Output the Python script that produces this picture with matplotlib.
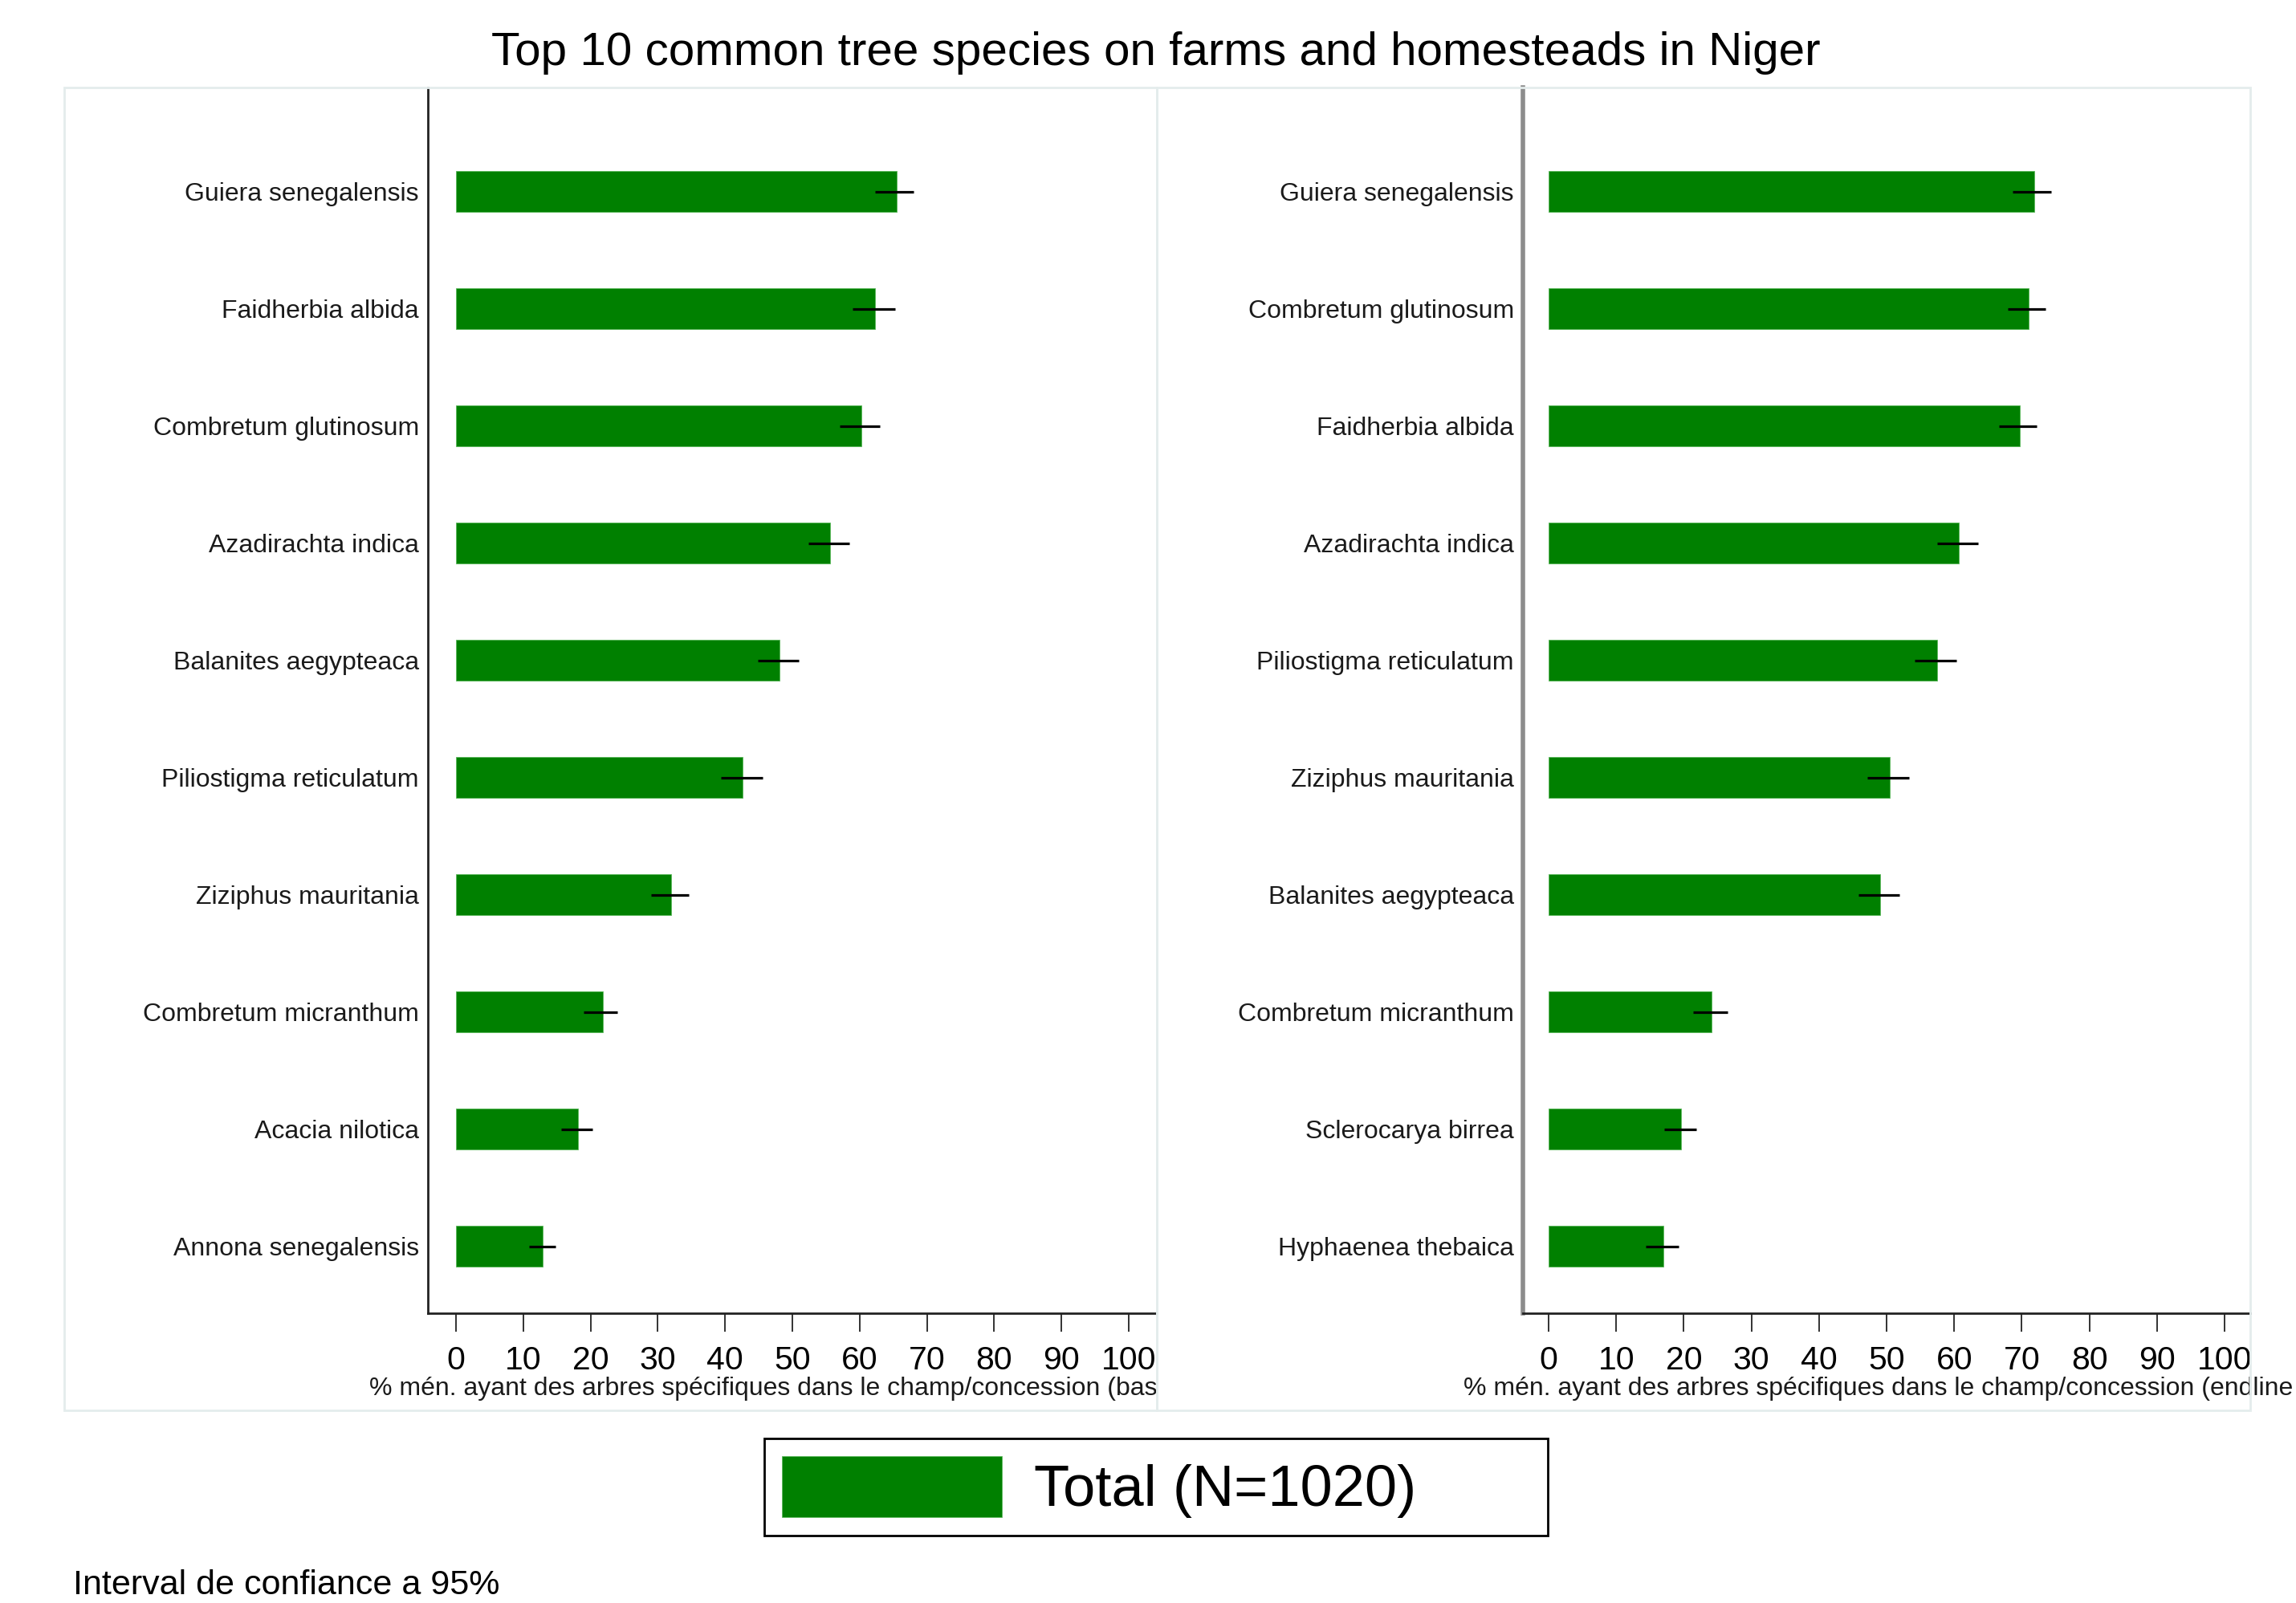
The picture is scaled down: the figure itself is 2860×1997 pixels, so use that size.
import numpy as np
import matplotlib
matplotlib.use("Agg")
import matplotlib.pyplot as plt
from matplotlib.patches import Rectangle
from matplotlib.transforms import Bbox, TransformedBbox

plt.rcParams['font.family'] = ['Liberation Sans', 'DejaVu Sans']

# Baseline (panneau gauche), du haut vers le bas
names_base = ["Guiera senegalensis", "Faidherbia albida", "Combretum glutinosum",
              "Azadirachta indica", "Balanites aegypteaca", "Piliostigma reticulatum",
              "Ziziphus mauritania", "Combretum micranthum", "Acacia nilotica",
              "Annona senegalensis"]
pct_base = [65.5, 62.3, 60.3, 55.6, 48.1, 42.6, 32.0, 21.8, 18.1, 12.9]
lo_base = [62.3, 59.0, 57.0, 52.4, 44.9, 39.4, 29.0, 19.0, 15.6, 10.8]
hi_base = [68.0, 65.3, 63.0, 58.5, 51.0, 45.6, 34.6, 24.0, 20.3, 14.8]

# Endline (panneau droit)
names_end = ["Guiera senegalensis", "Combretum glutinosum", "Faidherbia albida",
             "Azadirachta indica", "Piliostigma reticulatum", "Ziziphus mauritania",
             "Balanites aegypteaca", "Combretum micranthum", "Sclerocarya birrea",
             "Hyphaenea thebaica"]
pct_end = [71.8, 71.0, 69.7, 60.7, 57.5, 50.5, 49.1, 24.1, 19.6, 17.0]
lo_end = [68.7, 67.9, 66.6, 57.5, 54.2, 47.2, 45.8, 21.4, 17.1, 14.4]
hi_end = [74.4, 73.5, 72.2, 63.5, 60.3, 53.3, 51.9, 26.5, 21.9, 19.2]

xticks = list(range(0, 101, 10))
# titres d'axe tels qu'ils apparaissent (coupés dans l'original)
xlab_base = "% mén. ayant des arbres spécifiques dans le champ/concession (bas"
xlab_end = "% mén. ayant des arbres spécifiques dans le champ/concession (endline"
legend_label = "Total (N=1020)"
titre = "Top 10 common tree species on farms and homesteads in Niger"
note = "Interval de confiance a 95%"

W, H = 2860, 1997
fig = plt.figure(figsize=(W / 100, H / 100), dpi=100)
fig.patch.set_facecolor('white')

vert = '#008000'


def fx(px):
    return px / W


def fy(py):
    return 1 - py / H


def panneau(rect, box, names, pct, lo, hi, xlab, xlab_x, xlim, spine_col, spine_w):
    ax = fig.add_axes(rect)
    n = len(names)
    y = np.arange(n)[::-1]
    pct = np.array(pct)
    ax.barh(y, pct, height=0.35, color=vert, edgecolor='#5cb85c', linewidth=0.6,
            label=legend_label, zorder=2)
    ax.hlines(y, lo, hi, color='black', linewidth=2.3, zorder=3)
    ax.set_ylim(-0.57, n - 1 + 0.89)
    ax.set_xlim(*xlim)
    ax.set_yticks(y)
    ax.set_yticklabels(names, fontsize=23, color='#1a1a1a')
    ax.tick_params(axis='y', length=0, pad=8)
    ax.set_xticks(xticks)
    ax.set_xticklabels([str(t) for t in xticks], fontsize=29.5)
    ax.tick_params(axis='x', length=16.5, width=1.4, color='#333333', pad=12)
    ax.set_xlabel(xlab, fontsize=23, color='#1a1a1a', labelpad=1,
                  x=xlab_x, ha='right')
    for s in ['top', 'right']:
        ax.spines[s].set_visible(False)
    ax.spines['left'].set_color(spine_col)
    ax.spines['left'].set_linewidth(spine_w)
    ax.spines['bottom'].set_color('#222222')
    ax.spines['bottom'].set_linewidth(2.0)

    # cadre du panneau
    x0, y0, x1, y1 = box
    fig.patches.append(Rectangle((fx(x0), fy(y1)), fx(x1 - x0), (y1 - y0) / H,
                                 transform=fig.transFigure, fill=False,
                                 edgecolor='#e4ecec', linewidth=2.0, zorder=0))
    clip = TransformedBbox(Bbox([[fx(x0), 0], [fx(x1), 1]]), fig.transFigure)
    for t in ax.xaxis.get_major_ticks():
        t.label1.set_clip_box(clip)
        t.label1.set_clip_on(True)
    return ax


ax1 = panneau([fx(533), fy(1636), fx(1441 - 533), 1527 / H], (80, 109, 1441, 1757),
              names_base, pct_base, lo_base, hi_base, xlab_base, 1.0,
              (-4.2, 104.2), '#222222', 2.0)
ax2 = panneau([fx(1897), fy(1636), fx(2803 - 1897), 1527 / H], (1441, 109, 2803, 1757),
              names_end, pct_end, lo_end, hi_end, xlab_end, (2856 - 1897) / 906,
              (-3.8, 103.8), '#8c8c8c', 4.0)

fig.text(0.5035, fy(66), titre, ha='center', va='center', fontsize=42)

handles, labels = ax1.get_legend_handles_labels()
leg = fig.legend(handles, labels, loc='center', mode='expand',
                 bbox_to_anchor=(fx(952), fy(1917), fx(1928 - 952), 129 / H),
                 borderaxespad=0, fontsize=52, handlelength=3.8, handleheight=1.25,
                 handletextpad=0.55, borderpad=0.3, fancybox=False, framealpha=1)
leg.get_frame().set_edgecolor('black')
leg.get_frame().set_linewidth(2.0)

fig.text(fx(91), fy(1975), note, ha='left', va='center', fontsize=31)

fig.savefig('out.png', dpi=100)
